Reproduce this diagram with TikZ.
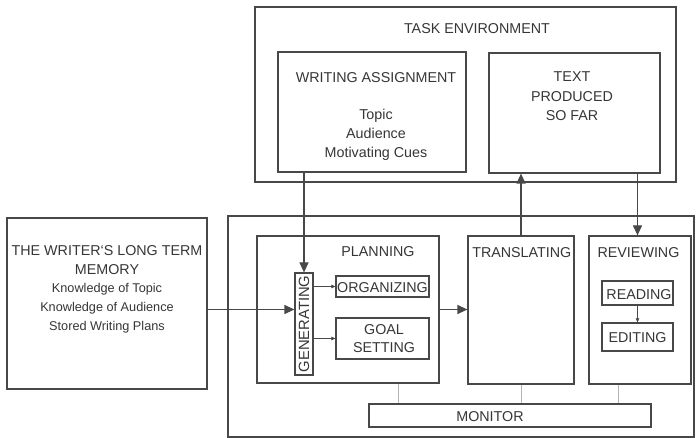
\documentclass[tikz,border=0pt]{standalone}
\usepackage{fontspec}
\setmainfont{Liberation Sans}
\usetikzlibrary{arrows.meta,calc}
\definecolor{ink}{HTML}{484848}
\definecolor{txt}{HTML}{363636}
\definecolor{faint}{HTML}{B4B4B4}
\begin{document}
\begin{tikzpicture}[x=1pt,y=-1pt,
  box/.style={draw=ink, line width=1.2pt, inner sep=0pt},
  capline/.style={text=txt, font=\fontsize{14.3}{17}\selectfont, inner sep=0pt, anchor=base},
  smallline/.style={text=txt, font=\fontsize{12.7}{15}\selectfont, inner sep=0pt, anchor=base},
  bigarrow/.style={draw=ink, line width=1.2pt, -{Triangle[length=10pt,width=9pt]}},
  smallarrow/.style={draw=ink, line width=0.6pt, -{Triangle[length=4pt,width=3.5pt]}},
  monline/.style={draw=faint, line width=0.7pt}]

\path[use as bounding box, fill=white] (0,0) rectangle (697,438);

% ---- task environment ----
\node[box, minimum width=421pt, minimum height=175pt] (taskenv) at (465.5,94.5) {};
\node[box, minimum width=188pt, minimum height=120pt] (assign) at (372,112) {};
\node[box, minimum width=171pt, minimum height=120pt] (produced) at (574.5,113) {};

\node[capline] (taskenvT) at (477,34) {TASK ENVIRONMENT};
\node[capline] (assignT) at (376,83) {WRITING ASSIGNMENT};
\node[capline] (assignA) at (376,120) {Topic};
\node[capline] (assignB) at (376,139) {Audience};
\node[capline] (assignC) at (376,158) {Motivating Cues};
\node[capline] (producedA) at (572,82) {TEXT};
\node[capline] (producedB) at (572,101.3) {PRODUCED};
\node[capline] (producedC) at (572,120.3) {SO FAR};

% ---- long term memory ----
\node[box, minimum width=200pt, minimum height=171pt] (ltm) at (107,303.5) {};
\node[capline] (ltmA) at (107,255.5) {THE WRITER\symbol{96}S LONG TERM};
\node[capline] (ltmB) at (107,275) {MEMORY};
\node[smallline] (ltmC) at (107,293) {Knowledge of Topic};
\node[smallline] (ltmD) at (107,312) {Knowledge of Audience};
\node[smallline] (ltmE) at (107,331) {Stored Writing Plans};

% ---- writing process ----
\node[box, minimum width=466pt, minimum height=221pt] (process) at (461,326.5) {};

\node[box, minimum width=182pt, minimum height=147pt] (planning) at (348,309.5) {};
\node[capline] (planningT) at (378,257) {PLANNING};
\node[box, minimum width=18pt, minimum height=102pt] (generating) at (304,324) {};
\node[rotate=90, text=txt, font=\fontsize{14.8}{17}\selectfont, inner sep=0pt] (generatingT) at (generating.center) {GENERATING};
\node[box, minimum width=93pt, minimum height=21pt] (organizing) at (382.5,286.5) {};
\node[capline] (organizingT) at (382.5,292.5) {ORGANIZING};
\node[box, minimum width=93pt, minimum height=41pt] (goal) at (382.5,338.5) {};
\node[capline] (goalA) at (384,335) {GOAL};
\node[capline] (goalB) at (384,353) {SETTING};

\node[box, minimum width=106pt, minimum height=148pt] (translating) at (521,310) {};
\node[capline] (translatingT) at (521.8,258) {TRANSLATING};

\node[box, minimum width=102pt, minimum height=148pt] (reviewing) at (640,310) {};
\node[capline] (reviewingT) at (638.5,258) {REVIEWING};
\node[box, minimum width=71pt, minimum height=24pt] (reading) at (637.5,293) {};
\node[capline] (readingT) at (639,300) {READING};
\node[box, minimum width=71pt, minimum height=28pt] (editing) at (637.5,337) {};
\node[capline] (editingT) at (637.5,342.7) {EDITING};

\node[box, minimum width=282pt, minimum height=23pt] (monitor) at (510,415.5) {};
\node[capline] (monitorT) at (490,421.7) {MONITOR};

% ---- connectors ----
\draw[bigarrow] (generating.north |- assign.south) -- (generating.north);
\draw[bigarrow] (ltm.east |- planning.east) -- (generating.west |- planning.east);
\draw[bigarrow] (planning.east) -- (translating.west |- planning.east);
\draw[bigarrow] (translating.north) -- (translating.north |- produced.south);
\draw[bigarrow] (reading.north |- produced.south) -- (reading.north |- reviewing.north);

\draw[smallarrow] (generating.east |- organizing.west) -- (organizing.west);
\draw[smallarrow] (generating.east |- goal.west) -- (goal.west);
\draw[smallarrow] (reading.south) -- (editing.north);

\coordinate (planMon) at ($(planning.south)!0.55!(planning.south east)$);
\coordinate (revMon) at ($(reviewing.south west)!0.59!(reviewing.south)$);
\draw[monline] (planMon) -- (planMon |- monitor.north);
\draw[monline] (translating.south) -- (translating.south |- monitor.north);
\draw[monline] (revMon) -- (revMon |- monitor.north);
\end{tikzpicture}
\end{document}
